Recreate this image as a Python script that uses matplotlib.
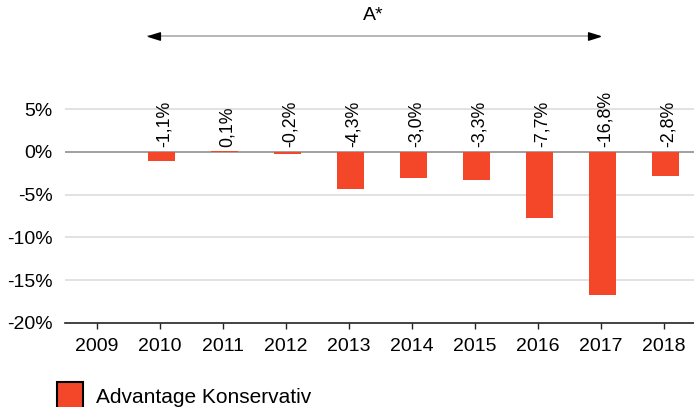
import matplotlib
matplotlib.use("Agg")
import matplotlib.pyplot as plt
from matplotlib.patches import Rectangle

plt.rcParams['font.family'] = ['Liberation Sans', 'DejaVu Sans']

years = ["2009", "2010", "2011", "2012", "2013", "2014", "2015", "2016", "2017", "2018"]
values = [None, -1.1, 0.1, -0.2, -4.3, -3.0, -3.3, -7.7, -16.8, -2.8]
labels = ["", "-1,1%", "0,1%", "-0,2%", "-4,3%", "-3,0%", "-3,3%", "-7,7%", "-16,8%", "-2,8%"]
yticks = [5, 0, -5, -10, -15, -20]
ytick_labels = ["5%", "0%", "-5%", "-10%", "-15%", "-20%"]
series_name = "Advantage Konservativ"
period_label = "A*"
period_start = 0.82   # left bar edge of 2010
period_end = 7.98     # 2017

bar_color = "#F4472A"

W, H = 694, 407
fig = plt.figure(figsize=(W / 100, H / 100), dpi=100)
ax = fig.add_axes([65 / W, (H - 322.7) / H, 630 / W, (322.7 - 66.65) / H])

xs = list(range(len(years)))
for x, v in zip(xs, values):
    if v is None:
        continue
    ax.bar(x + 0.03, v, width=0.43, color=bar_color, zorder=3)

for x, lab in zip(xs, labels):
    if lab:
        ax.text(x + 0.08, 0.6, lab, rotation=90, ha='center', va='bottom',
                fontsize=12.8, color='black', zorder=4)

ax.set_xlim(-0.5, 9.5)
ax.set_ylim(-20, 10)
ax.set_yticks(yticks)
ax.set_yticklabels(ytick_labels)
ax.set_xticks(xs)
ax.set_xticklabels(years)

for y in yticks:
    if y == 0:
        ax.axhline(0, color='#999999', lw=1.3, zorder=2)
    elif y != -20:
        ax.axhline(y, color='#dddddd', lw=1.2, zorder=1)

for s in ['top', 'right', 'left']:
    ax.spines[s].set_visible(False)
ax.spines['bottom'].set_color('#222222')
ax.spines['bottom'].set_linewidth(1.2)

ax.tick_params(axis='y', length=0, pad=9, labelsize=14)
ax.tick_params(axis='x', length=4, width=1, color='#222222', pad=7, labelsize=14)

# period arrow
ya = 13.6
left_head = [(-1, 0), (1, 0.62), (1, -0.62), (-1, 0)]
right_head = [(1, 0), (-1, 0.62), (-1, -0.62), (1, 0)]
ax.plot([period_start, period_end], [ya, ya], color='#aaaaaa', lw=1.2, clip_on=False, zorder=5)
ax.plot([period_start + 0.09], [ya], marker=left_head, color='black', markersize=8.5,
        clip_on=False, zorder=6)
ax.plot([period_end - 0.09], [ya], marker=right_head, color='black', markersize=8.5,
        clip_on=False, zorder=6)
ax.text((period_start + period_end) / 2 - 0.01, 15.0, period_label, ha='center', va='bottom',
        fontsize=14, clip_on=False)

# legend
fig.patches.append(Rectangle((57 / W, -0.03), 26 / W, (407 - 382) / H + 0.03,
                             transform=fig.transFigure, facecolor=bar_color,
                             edgecolor='black', lw=1.5))
fig.text(96 / W, (H - 403) / H, series_name, ha='left', va='baseline', fontsize=15)

fig.savefig("out.png", dpi=100)
